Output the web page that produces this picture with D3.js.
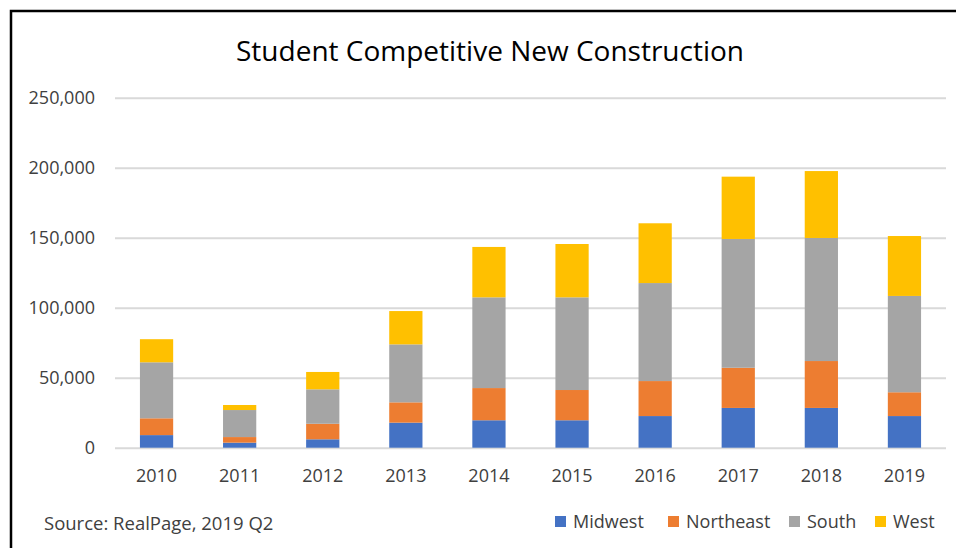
<!DOCTYPE html>
<meta charset="utf-8">
<html>
<head>
  <title>Student Competitive New Construction</title>
  <script src="https://d3js.org/d3.v7.min.js"></script>
  <style>
    body { margin: 0; background: #fff; }
    text { font-family: "Open Sans", sans-serif; fill: #404040; }
  </style>
</head>
<body>
  <div id="chart"></div>
<script>

// data
var years = ["2010","2011","2012","2013","2014","2015","2016","2017","2018","2019"];
var regions = ["Midwest","Northeast","South","West"];
var midwest   = [9000, 3600, 6000, 17900, 19600, 19600, 22600, 28400, 28400, 22600];
var northeast = [12000, 4000, 11100, 14500, 23000, 21600, 25000, 28700, 33500, 17000];
var south     = [40000, 19300, 24600, 41400, 64800, 66200, 70000, 92000, 87900, 68800];
var west      = [16500, 3600, 12400, 23800, 36000, 38100, 42700, 44500, 47800, 42800];
var yTicks = [0, 50000, 100000, 150000, 200000, 250000];
var colors = ["#4472C4", "#ED7D31", "#A5A5A5", "#FFC000"];

var W = 956, H = 548;
var margin = {top: 98, right: 10, bottom: 100, left: 115};

var svg = d3.select("#chart").append("svg")
    .attr("width", W)
    .attr("height", H);

// frame (only left and top edges visible)
svg.append("path")
    .attr("d", "M11," + H + "V11H" + W)
    .attr("fill", "none")
    .attr("stroke", "#000")
    .attr("stroke-width", 2.5);

// table for the stack
var rows = years.map(function(y, i) {
  return {year: y, Midwest: midwest[i], Northeast: northeast[i], South: south[i], West: west[i]};
});

var x = d3.scaleBand()
    .domain(years)
    .range([margin.left, W - margin.right])
    .paddingInner(0.6)
    .paddingOuter(0.3);

var y = d3.scaleLinear()
    .domain([0, 250000])
    .range([447.7, 97.7]);

var color = d3.scaleOrdinal().domain(regions).range(colors);

// gridlines + y labels
var yAxis = svg.append("g")
    .attr("transform", "translate(" + margin.left + ",0)")
    .call(d3.axisLeft(y).tickValues(yTicks).tickSize(-(W - margin.right - margin.left)).tickPadding(20).tickFormat(d3.format(",")));
yAxis.select(".domain").remove();
yAxis.selectAll(".tick line").attr("stroke", "#D9D9D9").attr("stroke-width", 2);
yAxis.selectAll(".tick text")
    .attr("font-family", "Open Sans, sans-serif")
    .attr("font-size", 18)
    .attr("fill", "#404040");

// stacked bars
var stack = d3.stack().keys(regions)(rows);
svg.append("g").selectAll("g")
  .data(stack)
  .join("g")
    .attr("fill", function(d) { return color(d.key); })
  .selectAll("rect")
  .data(function(d) { return d; })
  .join("rect")
    .attr("x", function(d) { return x(d.data.year); })
    .attr("width", x.bandwidth())
    .attr("y", function(d) { return y(d[1]); })
    .attr("height", function(d) { return y(d[0]) - y(d[1]); });

// x labels
var xAxis = svg.append("g")
    .attr("transform", "translate(0," + y(0) + ")")
    .call(d3.axisBottom(x).tickSize(0).tickPadding(22));
xAxis.select(".domain").remove();
xAxis.selectAll(".tick text")
    .attr("font-family", "Open Sans, sans-serif")
    .attr("font-size", 18)
    .attr("fill", "#404040");

// title
svg.append("text")
    .attr("x", 490)
    .attr("y", 61)
    .attr("text-anchor", "middle")
    .attr("font-size", 28)
    .style("fill", "#000")
    .text("Student Competitive New Construction");

// source
svg.append("text")
    .attr("x", 44)
    .attr("y", 530)
    .attr("font-size", 18.5)
    .text("Source: RealPage, 2019 Q2");

// legend
var legX = [555, 668, 789, 875];
var leg = svg.append("g").selectAll("g")
  .data(regions)
  .join("g")
    .attr("transform", function(d, i) { return "translate(" + legX[i] + ",516)"; });
leg.append("rect")
    .attr("width", 11)
    .attr("height", 11)
    .attr("fill", function(d) { return color(d); });
leg.append("text")
    .attr("x", 18)
    .attr("y", 12)
    .attr("font-size", 18)
    .text(function(d) { return d; });

</script>
</body>
</html>
